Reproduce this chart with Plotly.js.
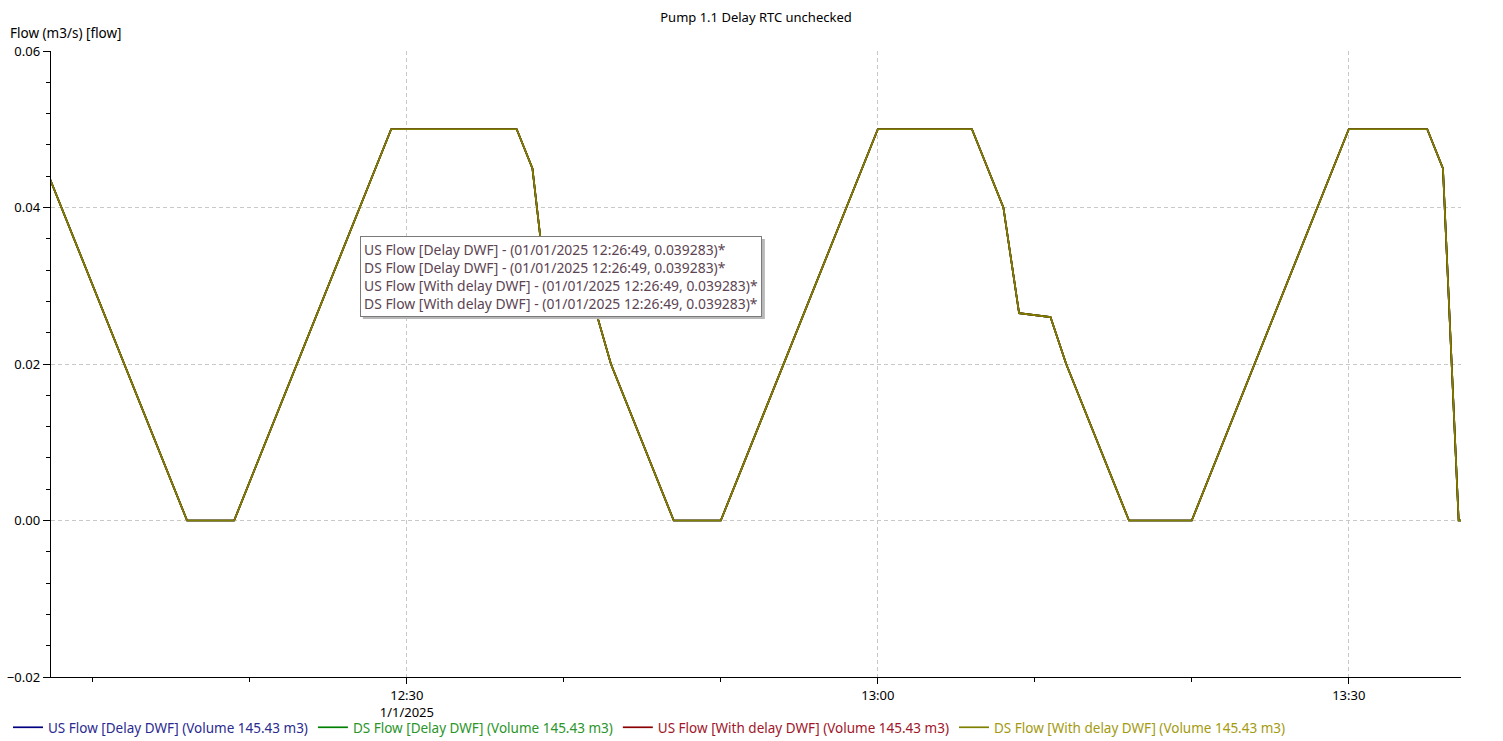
<!DOCTYPE html>
<html>
<head>
<meta charset="utf-8">
<script src="https://cdn.plot.ly/plotly-3.0.1.min.js"></script>
<style>
  html, body { margin: 0; padding: 0; background: #ffffff; }
  #chart { width: 1503px; height: 741px; }
</style>
</head>
<body>
<div id="chart"></div>
<script>
// ---- Data ----
const times = [
  '2025-01-01 12:07:00', '2025-01-01 12:10:00', '2025-01-01 12:16:00', '2025-01-01 12:19:00',
  '2025-01-01 12:29:00', '2025-01-01 12:37:00', '2025-01-01 12:38:00', '2025-01-01 12:39:00',
  '2025-01-01 12:42:00', '2025-01-01 12:43:00', '2025-01-01 12:47:00', '2025-01-01 12:50:00',
  '2025-01-01 13:00:00', '2025-01-01 13:06:00', '2025-01-01 13:08:00', '2025-01-01 13:09:00',
  '2025-01-01 13:11:00', '2025-01-01 13:12:00', '2025-01-01 13:16:00', '2025-01-01 13:20:00',
  '2025-01-01 13:30:00', '2025-01-01 13:35:00', '2025-01-01 13:36:00', '2025-01-01 13:37:00',
  '2025-01-01 13:38:00'
];
const usFlowDelayDWF     = [0.045, 0.030, 0, 0, 0.05, 0.05, 0.045, 0.0275, 0.027, 0.02, 0, 0, 0.05, 0.05, 0.04, 0.0265, 0.026, 0.02, 0, 0, 0.05, 0.05, 0.045, 0, 0];
const dsFlowDelayDWF     = [0.045, 0.030, 0, 0, 0.05, 0.05, 0.045, 0.0275, 0.027, 0.02, 0, 0, 0.05, 0.05, 0.04, 0.0265, 0.026, 0.02, 0, 0, 0.05, 0.05, 0.045, 0, 0];
const usFlowWithDelayDWF = [0.045, 0.030, 0, 0, 0.05, 0.05, 0.045, 0.0275, 0.027, 0.02, 0, 0, 0.05, 0.05, 0.04, 0.0265, 0.026, 0.02, 0, 0, 0.05, 0.05, 0.045, 0, 0];
const dsFlowWithDelayDWF = [0.045, 0.030, 0, 0, 0.05, 0.05, 0.045, 0.0275, 0.027, 0.02, 0, 0, 0.05, 0.05, 0.04, 0.0265, 0.026, 0.02, 0, 0, 0.05, 0.05, 0.045, 0, 0];

const seriesNames = [
  'US Flow [Delay DWF] (Volume 145.43 m3)',
  'DS Flow [Delay DWF] (Volume 145.43 m3)',
  'US Flow [With delay DWF] (Volume 145.43 m3)',
  'DS Flow [With delay DWF] (Volume 145.43 m3)'
];
const seriesColors = ['#000080', '#008000', '#8b0000', '#808000'];
const legendTextColors = ['#2a2a90', '#2a952a', '#a0162a', '#a39a10'];
const seriesValues = [usFlowDelayDWF, dsFlowDelayDWF, usFlowWithDelayDWF, dsFlowWithDelayDWF];

const xTickVals = ['2025-01-01 12:30:00', '2025-01-01 13:00:00', '2025-01-01 13:30:00'];
const xTickText = ['12:30<br>1/1/2025', '13:00', '13:30'];

const tooltipTime = '2025-01-01 12:26:49';
const tooltipValue = 0.039283;
const tooltipLines = [
  'US Flow [Delay DWF] - (01/01/2025 12:26:49, 0.039283)*',
  'DS Flow [Delay DWF] - (01/01/2025 12:26:49, 0.039283)*',
  'US Flow [With delay DWF] - (01/01/2025 12:26:49, 0.039283)*',
  'DS Flow [With delay DWF] - (01/01/2025 12:26:49, 0.039283)*'
];

const FONT = 'Noto Sans, Open Sans, DejaVu Sans, sans-serif';

const traces = seriesValues.map((vals, i) => ({
  type: 'scatter',
  mode: 'lines',
  x: times,
  y: vals,
  name: '<span style="color:' + legendTextColors[i] + '">' + seriesNames[i] + '</span>',
  line: { color: seriesColors[i], width: 1.7 },
  hoverinfo: 'skip'
}));

const tooltipText = tooltipLines.join('<br>');

const layout = {
  width: 1503,
  height: 741,
  paper_bgcolor: '#ffffff',
  plot_bgcolor: '#ffffff',
  font: { family: FONT, size: 13, color: '#000000' },
  margin: { l: 51, r: 42, t: 51, b: 64, pad: 0, autoexpand: false },
  title: {
    text: 'Pump 1.1 Delay RTC unchecked',
    font: { family: FONT, size: 13, color: '#000000' },
    x: 0.5, xref: 'paper', xanchor: 'center',
    y: 1 - 17 / 741, yref: 'container', yanchor: 'middle'
  },
  showlegend: true,
  legend: {
    orientation: 'h',
    xref: 'container', yref: 'container',
    x: 8 / 1503, xanchor: 'left',
    y: 1 - 712 / 741, yanchor: 'top',
    font: { family: FONT, size: 13.5 },
    bgcolor: 'rgba(0,0,0,0)',
    itemwidth: 30,
    tracegroupgap: 0
  },
  hovermode: false,
  xaxis: {
    type: 'date',
    range: ['2025-01-01 12:07:20', '2025-01-01 13:37:09'],
    tickmode: 'array',
    tickvals: xTickVals,
    ticktext: xTickText,
    ticks: 'outside',
    ticklen: 6,
    tickwidth: 1,
    tickcolor: '#000000',
    showline: true,
    linecolor: '#000000',
    linewidth: 1.3,
    mirror: false,
    showgrid: true,
    gridcolor: '#c8c8c8',
    griddash: '4px,3px',
    gridwidth: 1,
    zeroline: false,
    automargin: false,
    tickfont: { family: FONT, size: 13, color: '#000000' },
    minor: {
      tickmode: 'linear',
      tick0: '2025-01-01 12:00:00',
      dtick: 600000,
      ticks: 'outside',
      ticklen: 4,
      tickcolor: '#000000',
      showgrid: false
    }
  },
  yaxis: {
    range: [-0.02, 0.06],
    tickmode: 'linear',
    tick0: 0,
    dtick: 0.02,
    tickformat: '.2f',
    ticks: 'outside',
    ticklen: 7,
    tickwidth: 1,
    tickcolor: '#000000',
    showline: true,
    linecolor: '#000000',
    linewidth: 1.3,
    showgrid: true,
    gridcolor: '#c8c8c8',
    griddash: '4px,3px',
    gridwidth: 1,
    zeroline: false,
    automargin: false,
    tickfont: { family: FONT, size: 13, color: '#000000' },
    minor: {
      tickmode: 'linear',
      tick0: 0,
      dtick: 0.004,
      ticks: 'outside',
      ticklen: 4,
      tickcolor: '#000000',
      showgrid: false
    }
  },
  shapes: [
    // tooltip drop shadow (pixel-sized, anchored at the hovered point)
    {
      type: 'rect',
      xref: 'x', yref: 'y',
      xsizemode: 'pixel', ysizemode: 'pixel',
      xanchor: tooltipTime, yanchor: tooltipValue,
      x0: 6, x1: 408, y0: -26, y1: -106,
      fillcolor: '#b8b8b8',
      line: { width: 0 },
      layer: 'above'
    }
  ],
  annotations: [
    {
      text: 'Flow (m3/s) [flow]',
      xref: 'paper', yref: 'paper',
      x: 0, y: 1,
      xanchor: 'left', yanchor: 'bottom',
      xshift: -43, yshift: 7,
      showarrow: false,
      font: { family: FONT, size: 13.5, color: '#000000' }
    },
    // tooltip box
    {
      text: tooltipText,
      xref: 'x', yref: 'y',
      x: tooltipTime, y: tooltipValue,
      xanchor: 'left', yanchor: 'top',
      xshift: 3, yshift: -23,
      align: 'left',
      showarrow: false,
      bgcolor: '#ffffff',
      bordercolor: '#7a7a7a',
      borderwidth: 1,
      borderpad: 3,
      font: { family: FONT, size: 13.9, color: '#5c4452' }
    }
  ]
};

Plotly.newPlot('chart', traces, layout, { displayModeBar: false, staticPlot: true });
</script>
</body>
</html>
